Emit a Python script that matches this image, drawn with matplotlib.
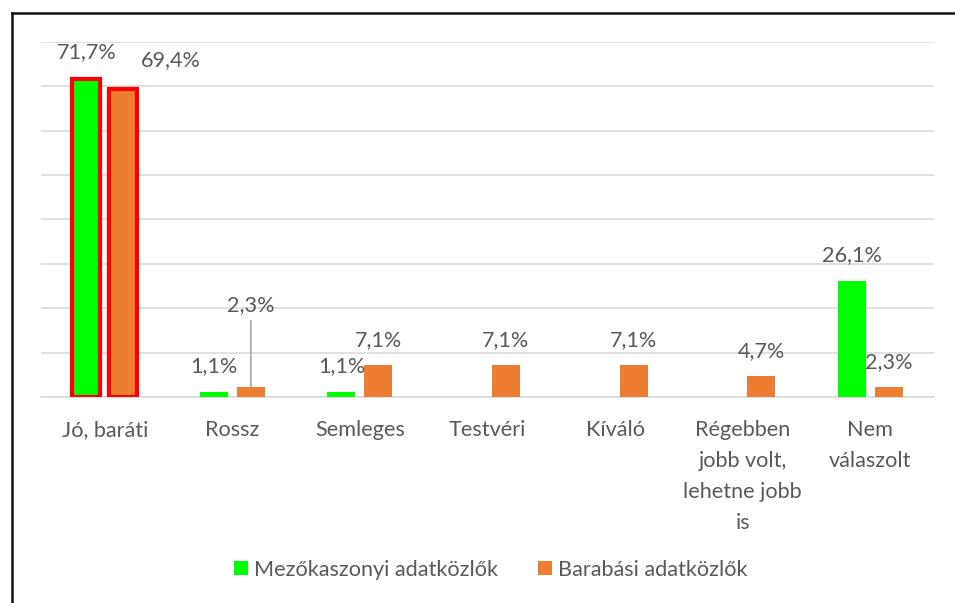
import matplotlib
matplotlib.use("Agg")
import matplotlib.pyplot as plt
import numpy as np
from matplotlib.lines import Line2D
from matplotlib.patches import Patch

plt.rcParams['font.family'] = ['Lato', 'DejaVu Sans']

categories = ["Jó, baráti", "Rossz", "Semleges", "Testvéri", "Kíváló",
              "Régebben\njobb volt,\nlehetne jobb\nis", "Nem\nválaszolt"]
series_names = ["Mezőkaszonyi adatközlők", "Barabási adatközlők"]
mezo = [71.7, 1.1, 1.1, 0, 0, 0, 26.1]
barab = [69.4, 2.3, 7.1, 7.1, 7.1, 4.7, 2.3]

GREEN = "#00FF00"
ORANGE = "#ED7D31"
TXT = "#595959"
GRID = "#D9D9D9"
FS = 15.6

fig = plt.figure(figsize=(9.55, 6.03), dpi=100)
W, H = 955, 603
ax = fig.add_axes([41 / W, (H - 397) / H, (934 - 41) / W, (397 - 41.7) / H])

x = np.arange(len(categories))
off = 0.145
bw = 0.22
b1 = ax.bar(x - off, mezo, bw, color=GREEN, zorder=3)
b2 = ax.bar(x + off, barab, bw, color=ORANGE, zorder=3)
# highlight first group with red outline
for b in (b1[0], b2[0]):
    b.set_edgecolor("#FF0000")
    b.set_linewidth(3.0)

ax.set_xlim(-0.5, len(categories) - 0.5)
ax.set_ylim(0, 80)
ax.set_yticks(np.arange(0, 81, 10))
ax.yaxis.grid(True, color=GRID, linewidth=1.1, zorder=0)
ax.tick_params(axis='y', left=False, labelleft=False)
ax.tick_params(axis='x', bottom=False, pad=13)
ax.set_xticks(x)
ax.set_xticklabels(categories, fontsize=FS, color=TXT, linespacing=1.68, va='top')
for s in ("top", "right", "left"):
    ax.spines[s].set_visible(False)
ax.spines["bottom"].set_color(GRID)
ax.spines["bottom"].set_linewidth(1.1)

def fmt(v):
    return f"{v:.1f}".replace(".", ",") + "%"

# data labels (pixel offsets from bar top)
for i, v in enumerate(mezo):
    if v > 0:
        ax.annotate(fmt(v), (x[i] - off, v), xytext=(0, 26), textcoords='offset pixels',
                    ha='center', va='center', fontsize=FS, color=TXT, zorder=4)
for i, v in enumerate(barab):
    dx, dy = 0, 25
    if i == 0:
        dx, dy = 48, 29
    if i == 1:
        dy = 82
    ax.annotate(fmt(v), (x[i] + off, v), xytext=(dx, dy), textcoords='offset pixels',
                ha='center', va='center', fontsize=FS, color=TXT, zorder=4)
# leader line for Rossz orange label
ax.annotate("", (x[1] + off, barab[1]), xytext=(0, 66), textcoords='offset pixels',
            arrowprops=dict(arrowstyle='-', color="#A6A6A6", lw=1.2, shrinkA=0, shrinkB=0))

handles = [Patch(facecolor=GREEN), Patch(facecolor=ORANGE)]
fig.legend(handles, series_names, loc='center', bbox_to_anchor=(491 / W, (H - 570) / H),
           ncol=2, frameon=False, fontsize=FS, labelcolor=TXT,
           handlelength=0.62, handleheight=0.62, handletextpad=0.3, columnspacing=1.85)

# figure border (left and top)
fig.add_artist(Line2D([11.5 / W, 11.5 / W], [0, (H - 12.5) / H], color="#111111", lw=1.8,
                      transform=fig.transFigure))
fig.add_artist(Line2D([11.5 / W, 1.0], [(H - 12.5) / H, (H - 12.5) / H], color="#111111", lw=1.8,
                      transform=fig.transFigure))

fig.savefig("out.png", dpi=100)
